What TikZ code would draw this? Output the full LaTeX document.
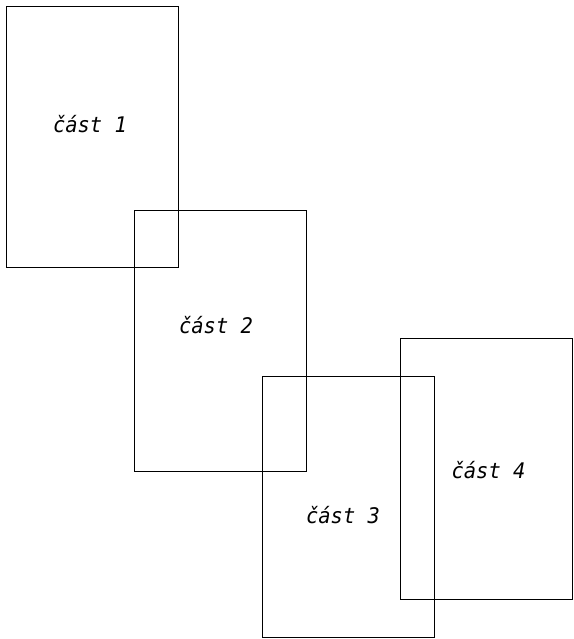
\documentclass[tikz,border=0pt]{standalone}
\usepackage{fontspec}
\setmainfont{DejaVu Sans}
\newfontfamily\partfont{DejaVu Sans Mono}
\begin{document}
\begin{tikzpicture}[x=1pt,y=-1pt,
  part/.style={draw=black,line width=0.9pt,inner sep=0pt,minimum width=171.5pt,minimum height=261pt},
  lbl/.style={anchor=base,inner sep=0pt,xscale=0.95,font=\partfont\itshape\fontsize{21.5}{24}\selectfont}]
\useasboundingbox (0,0) rectangle (573,639);
\node[part] (r1) at (92.2,136.5) {};
\node[part] (r2) at (220.5,340.5) {};
\node[part] (r3) at (348.5,506.5) {};
\node[part] (r4) at (486.5,469) {};
\node[lbl] (t1) at (90,132.5) {část 1};
\node[lbl] (t2) at (216,333) {část 2};
\node[lbl] (t3) at (343,523.5) {část 3};
\node[lbl] (t4) at (488.5,478) {část 4};
\end{tikzpicture}
\end{document}
